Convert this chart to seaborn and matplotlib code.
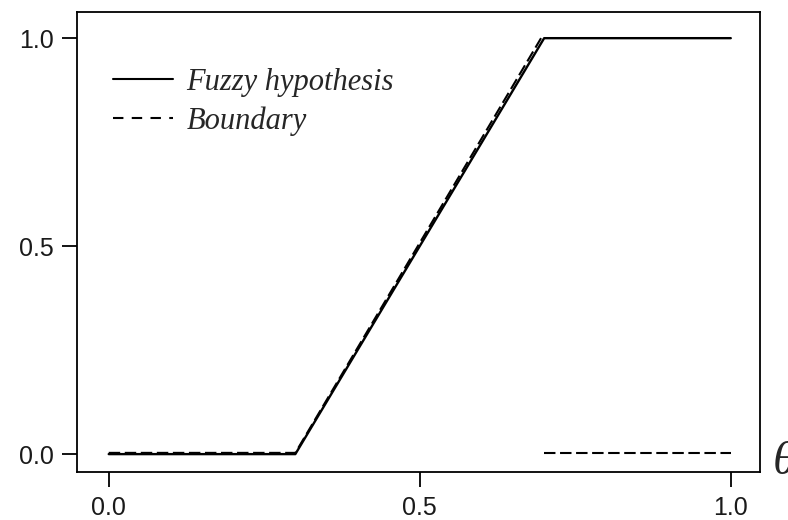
import matplotlib
matplotlib.use("Agg")
import matplotlib.pyplot as plt
import seaborn as sns
import pandas as pd
from matplotlib.lines import Line2D

sns.set_theme(style="white")
plt.rcParams['font.family'] = ['Liberation Sans', 'DejaVu Sans']

# Data
fuzzy_x = [0.0, 0.3, 0.7, 1.0]
fuzzy_y = [0.0, 0.0, 1.0, 1.0]
boundary1_x = [0.0, 0.3, 0.695]
boundary1_y = [0.003, 0.003, 1.0]
boundary2_x = [0.7, 1.0]
boundary2_y = [0.003, 0.003]
x_ticks = [0.0, 0.5, 1.0]
y_ticks = [0.0, 0.5, 1.0]
tick_labels = ["0.0", "0.5", "1.0"]

fig = plt.figure(figsize=(7.88, 5.2), dpi=100)
ax = fig.add_axes([0.0977, 0.0923, 0.8668, 0.8847])

df_f = pd.DataFrame({"x": fuzzy_x, "y": fuzzy_y})
df_b1 = pd.DataFrame({"x": boundary1_x, "y": boundary1_y})
df_b2 = pd.DataFrame({"x": boundary2_x, "y": boundary2_y})

dash = (0, (5.5, 2.2))
sns.lineplot(data=df_f, x="x", y="y", ax=ax, sort=False, color="black", linewidth=1.7, estimator=None)
sns.lineplot(data=df_b1, x="x", y="y", ax=ax, sort=False, color="black", linewidth=1.5,
             linestyle=dash, estimator=None)
sns.lineplot(data=df_b2, x="x", y="y", ax=ax, sort=False, color="black", linewidth=1.5,
             linestyle=dash, estimator=None)

ax.set_xlim(-0.051, 1.047)
ax.set_ylim(-0.043, 1.063)
ax.set_xticks(x_ticks)
ax.set_xticklabels(tick_labels)
ax.set_yticks(y_ticks)
ax.set_yticklabels(tick_labels)
ax.set_xlabel("")
ax.set_ylabel("")
ax.tick_params(axis="both", direction="out", length=11, width=1.3, color="black",
               labelsize=18, labelcolor="#1a1a1a", pad=6, bottom=True, left=True)
for s in ax.spines.values():
    s.set_color("black")
    s.set_linewidth(1.3)

handles = [Line2D([0], [0], color="black", linewidth=1.5),
           Line2D([0], [0], color="black", linewidth=1.5, linestyle=(0, (5, 4)))]
leg = ax.legend(handles, ["Fuzzy hypothesis", "Boundary"], loc="upper left",
                bbox_to_anchor=(0.053, 0.879), frameon=False, handlelength=1.95,
                handletextpad=0.45, labelspacing=0.32, borderpad=0, borderaxespad=0,
                prop={"family": "Liberation Serif", "style": "italic", "size": 22})

fig.text(0.981, 0.11, "θ", family="Liberation Serif", style="italic", fontsize=34,
         ha="left", va="center")

fig.savefig("out.png", dpi=100)
